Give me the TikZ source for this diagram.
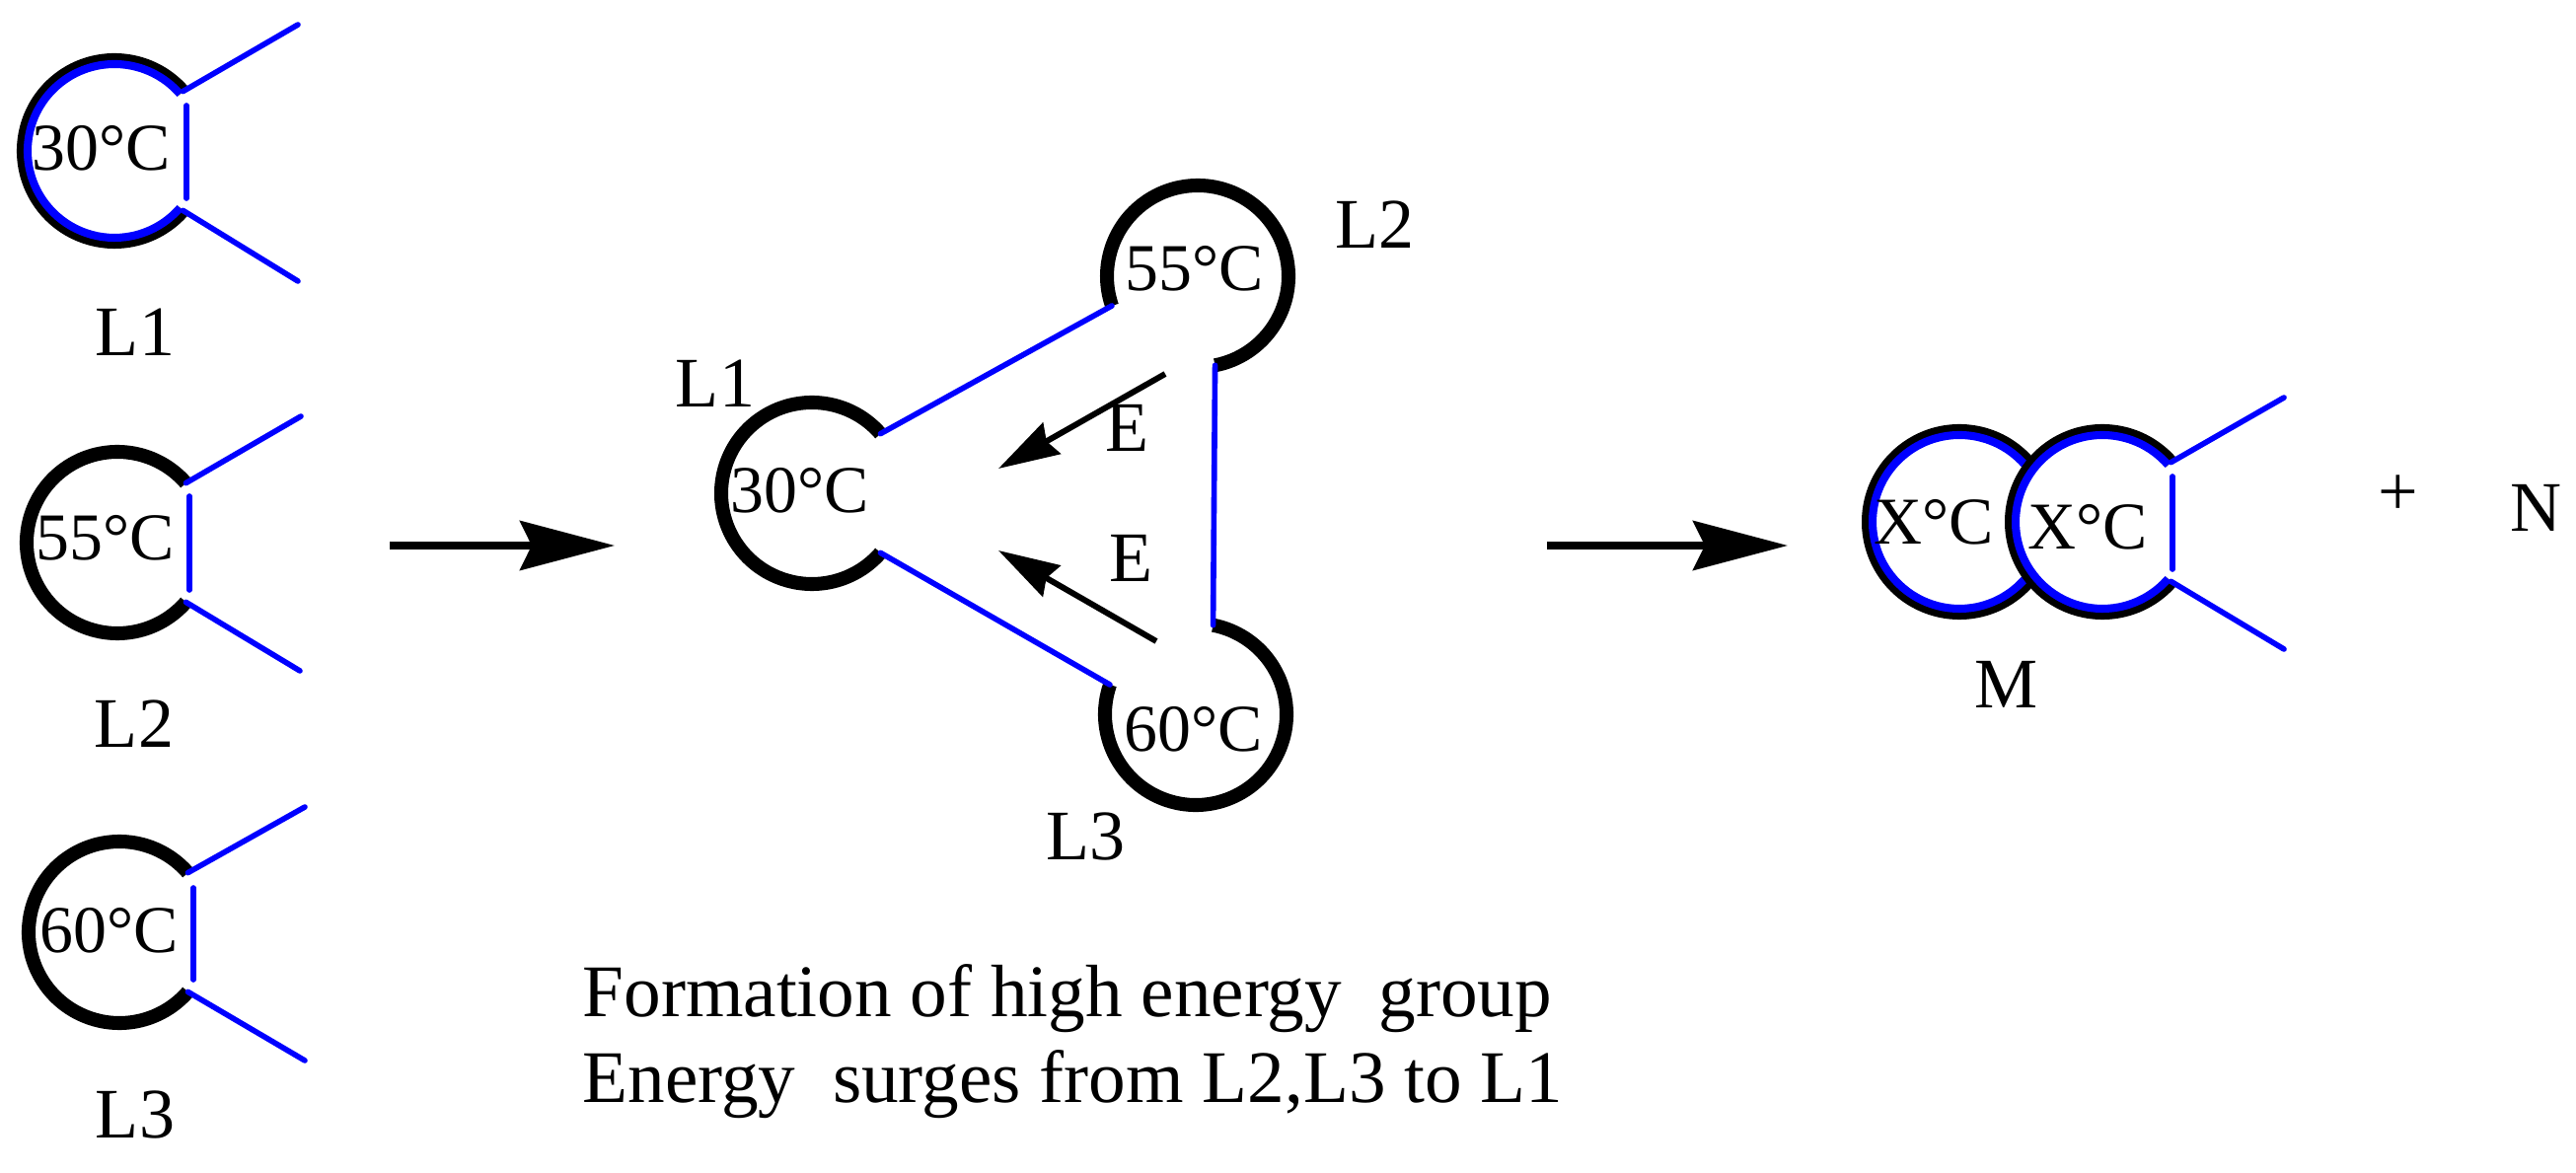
\documentclass[tikz,border=0pt]{standalone}
\usepackage{fontspec}
\setmainfont{Liberation Serif}
\usetikzlibrary{arrows.meta}
\tikzset{
    ring/.style = {line width=4pt,draw=black},
    ringb/.style = {line width=2.3pt,draw=blue},
    bond/.style = {line width=1.6pt,draw=blue,line cap=round},
    temp/.style = {anchor=base,inner sep=0pt,font=\fontsize{19.3}{23}\selectfont},
    lab/.style = {anchor=base,inner sep=0pt,font=\fontsize{20.5}{25}\selectfont},
    captext/.style = {anchor=base west,inner sep=0pt,font=\fontsize{21.4}{25}\selectfont},
    edgebig/.style = {-{Stealth[length=9.6mm,width=5mm,inset=1.2mm]},line width=2pt},
    edgee/.style = {-{Stealth[length=6.2mm,width=3.6mm,inset=0.6mm]},line width=1.7pt}
}

\begin{document}
\begin{tikzpicture}[x=0.1mm,y=0.1mm]
  \useasboundingbox (0,0) rectangle (2611,1188);

  % left column
  \coordinate (s1) at (116,1035);
  \coordinate (s2) at (119,638);
  \coordinate (s3) at (121,243);

  \draw[ring] ([shift={(41:92)}]s1) coordinate (s1a) arc[start angle=41,end angle=319,radius=92] coordinate (s1b);
  \draw[ringb] ([shift={(41:88)}]s1) arc[start angle=41,end angle=319,radius=88];
  \draw[bond] (s1a) -- ([shift={(186,128)}]s1);
  \draw[bond] (s1b) -- ([shift={(186,-132)}]s1);
  \draw[bond] ([shift={(73,46)}]s1) -- ([shift={(73,-48)}]s1);
  \node[temp] (t1) at (103,1015) {30°C};
  \node[lab] (n1) at (137,827) {L1};

  \draw[ring] ([shift={(41:92)}]s2) coordinate (s2a) arc[start angle=41,end angle=319,radius=92] coordinate (s2b);
  \draw[bond] (s2a) -- ([shift={(186,128)}]s2);
  \draw[bond] (s2b) -- ([shift={(185,-130)}]s2);
  \draw[bond] ([shift={(73,47)}]s2) -- ([shift={(73,-48)}]s2);
  \node[temp] (t2) at (107,620) {55°C};
  \node[lab] (n2) at (136,431) {L2};

  \draw[ring] ([shift={(41:92)}]s3) coordinate (s3a) arc[start angle=41,end angle=319,radius=92] coordinate (s3b);
  \draw[bond] (s3a) -- ([shift={(188,127)}]s3);
  \draw[bond] (s3b) -- ([shift={(188,-130)}]s3);
  \draw[bond] ([shift={(75,45)}]s3) -- ([shift={(75,-48)}]s3);
  \node[temp] (t3) at (111,223) {60°C};
  \node[lab] (n3) at (137,35) {L3};

  \coordinate (a1s) at (395,635);
  \coordinate (a1t) at (623,635);
  \draw[edgebig] (a1s) -- (a1t);

  % high energy group
  \coordinate (m1) at (823,688);
  \coordinate (m2) at (1214,908);
  \coordinate (m3) at (1212,464);
  \draw[ring] ([shift={(41:92)}]m1) coordinate (m1a) arc[start angle=41,end angle=319,radius=92] coordinate (m1b);
  \draw[ring] ([shift={(-79:92)}]m2) coordinate (m2a) arc[start angle=-79,end angle=199,radius=92] coordinate (m2b);
  \draw[ring] ([shift={(161:92)}]m3) coordinate (m3a) arc[start angle=161,end angle=439,radius=92] coordinate (m3b);
  \draw[bond] (m1a) -- (m2b);
  \draw[bond] (m1b) -- (m3a);
  \draw[bond] (m2a) -- (m3b);
  \node[temp] (u1) at (811,668) {30°C};
  \node[temp] (u2) at (1211,893) {55°C};
  \node[temp] (u3) at (1210,426) {60°C};
  \node[lab] (k1) at (725,775) {L1};
  \node[lab] (k2) at (1393,936) {L2};
  \node[lab] (k3) at (1100,317) {L3};

  \coordinate (e1s) at (1181,809);
  \coordinate (e1t) at (1012,713);
  \coordinate (e2s) at (1172,538);
  \coordinate (e2t) at (1012,630);
  \draw[edgee] (e1s) -- (e1t);
  \draw[edgee] (e2s) -- (e2t);
  \node[lab] (E1) at (1142,730) {E};
  \node[lab] (E2) at (1146,598) {E};

  \node[captext] (c1) at (590,158) {Formation of high energy\ \ group};
  \node[captext] (c2) at (590,71) {Energy\ \ surges from L2,L3 to L1};

  \coordinate (a2s) at (1568,635);
  \coordinate (a2t) at (1812,635);
  \draw[edgebig] (a2s) -- (a2t);

  % product M
  \coordinate (p1) at (1986,659);
  \coordinate (p2) at (2131,659);
  \draw[ring] ([shift={(38:92)}]p1) arc[start angle=38,end angle=322,radius=92];
  \draw[ringb] ([shift={(38:88)}]p1) arc[start angle=38,end angle=322,radius=88];
  \draw[ring] ([shift={(41:92)}]p2) coordinate (p2a) arc[start angle=41,end angle=319,radius=92] coordinate (p2b);
  \draw[ringb] ([shift={(41:88)}]p2) arc[start angle=41,end angle=319,radius=88];
  \draw[bond] (p2a) -- ([shift={(184,126)}]p2);
  \draw[bond] (p2b) -- ([shift={(184,-129)}]p2);
  \draw[bond] ([shift={(71,46)}]p2) -- ([shift={(71,-48)}]p2);
  \node[temp] (x1) at (1960,636) {X°C};
  \node[temp] (x2) at (2116,631) {X°C};
  \node[lab] (M) at (2033,470) {M};

  \node[lab] (plus) at (2431,665) {+};
  \node[lab] (N) at (2570,649) {N};
\end{tikzpicture}
\end{document}
